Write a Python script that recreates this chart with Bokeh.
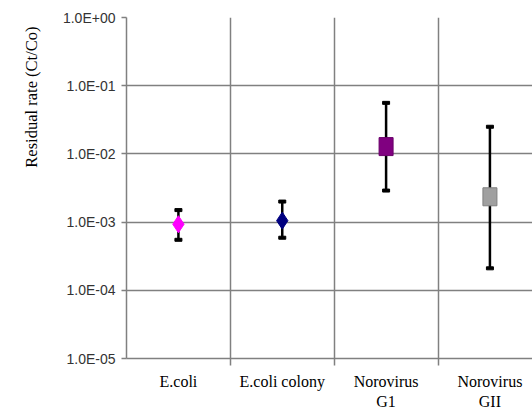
from bokeh.plotting import figure
from bokeh.models import (ColumnDataSource, FixedTicker, Range1d,
                          CustomJSTickFormatter, Title)
from bokeh.embed import file_html
from bokeh.resources import INLINE

# ---- data ----
categories = ["E.coli", "E.coli colony", "Norovirus\nG1", "Norovirus\nGII"]
mean_rate = [9.3e-4, 1.05e-3, 1.28e-2, 2.35e-3]
upper_rate = [1.5e-3, 2.0e-3, 5.6e-2, 2.5e-2]
lower_rate = [5.5e-4, 5.9e-4, 2.9e-3, 2.1e-4]
marker_kind = ["diamond", "diamond", "rect", "rect"]
fill_colors = ["#FF00FF", "#000080", "#800080", "#A0A0A0"]
line_colors = ["#FF00FF", "#000080", "#6A006A", "#7F7F7F"]
y_ticks = [1e-5, 1e-4, 1e-3, 1e-2, 1e-1, 1.0]
y_label = "Residual rate (Ct/Co)"

n = len(categories)
centers = [i + 0.5 for i in range(n)]
bounds = [float(i) for i in range(1, n)]

p = figure(width=532, height=412, y_axis_type="log",
           x_range=Range1d(0, 3.91), y_range=Range1d(1e-5, 1.0),
           output_backend="svg", toolbar_location=None,
           min_border_left=125, min_border_right=0, min_border_top=17,
           min_border_bottom=54)
p.outline_line_color = None
p.background_fill_color = "white"

# grids
p.xgrid.ticker = FixedTicker(ticks=bounds)
p.ygrid.ticker = FixedTicker(ticks=y_ticks)
for g in (p.xgrid, p.ygrid):
    g.grid_line_color = "#808080"
    g.grid_line_width = 1.5

# x axis
xa = p.xaxis[0]
xa.ticker = FixedTicker(ticks=centers, minor_ticks=bounds)
xa.major_label_overrides = {c: lab for c, lab in zip(centers, categories)}
xa.major_tick_out = 0
xa.major_tick_in = 0
xa.minor_tick_out = 7
xa.minor_tick_in = 0
xa.minor_tick_line_color = "#808080"
xa.minor_tick_line_width = 1.5
xa.axis_line_color = "#808080"
xa.axis_line_width = 1.5
xa.major_label_standoff = 7
xa.major_label_text_font = "Liberation Serif"
xa.major_label_text_font_size = "16px"
xa.major_label_text_color = "black"
xa.major_label_text_align = "center"

# y axis
ya = p.yaxis[0]
ya.ticker = FixedTicker(ticks=y_ticks)
ya.formatter = CustomJSTickFormatter(code="""
const s = tick.toExponential(1);
const parts = s.split('e');
const sign = parts[1][0];
let d = parts[1].slice(1);
if (d.length < 2) d = '0' + d;
return parts[0] + 'E' + sign + d;
""")
ya.major_tick_out = 5
ya.major_tick_in = 0
ya.minor_tick_out = 0
ya.minor_tick_in = 0
ya.major_tick_line_color = "#808080"
ya.major_tick_line_width = 1.5
ya.axis_line_color = "#808080"
ya.axis_line_width = 1.5
ya.major_label_standoff = 6
ya.major_label_text_font = "Liberation Sans"
ya.major_label_text_font_size = "14px"
ya.major_label_text_color = "#333333"

# error bars
src = ColumnDataSource(dict(x=centers, y=mean_rate, up=upper_rate,
                            lo=lower_rate))
p.segment(x0="x", y0="lo", x1="x", y1="up", source=src,
          line_color="black", line_width=2.5)
p.rect(x="x", y="up", width=7, height=3, width_units="screen",
       height_units="screen", source=src, fill_color="black", line_color="black")
p.rect(x="x", y="lo", width=7, height=3, width_units="screen",
       height_units="screen", source=src, fill_color="black", line_color="black")

# markers
dia_idx = [i for i, k in enumerate(marker_kind) if k == "diamond"]
rect_idx = [i for i, k in enumerate(marker_kind) if k == "rect"]
dsrc = ColumnDataSource(dict(x=[centers[i] for i in dia_idx],
                             y=[mean_rate[i] for i in dia_idx],
                             fill=[fill_colors[i] for i in dia_idx],
                             line=[line_colors[i] for i in dia_idx]))
rsrc = ColumnDataSource(dict(x=[centers[i] for i in rect_idx],
                             y=[mean_rate[i] for i in rect_idx],
                             fill=[fill_colors[i] for i in rect_idx],
                             line=[line_colors[i] for i in rect_idx]))
p.scatter(x="x", y="y", marker="diamond", size=17, source=dsrc,
          fill_color="fill", line_color="line")
p.rect(x="x", y="y", width=14, height=18, width_units="screen",
       height_units="screen", source=rsrc, fill_color="fill", line_color="line")

# y label as a left-side title aligned toward the top
ttl = Title(text=y_label, align="right", text_font="Liberation Serif",
            text_font_size="16.5px", text_font_style="normal",
            text_color="black", offset=9, standoff=38)
p.add_layout(ttl, "left")

open("out.html", "w").write(file_html(p, INLINE))
